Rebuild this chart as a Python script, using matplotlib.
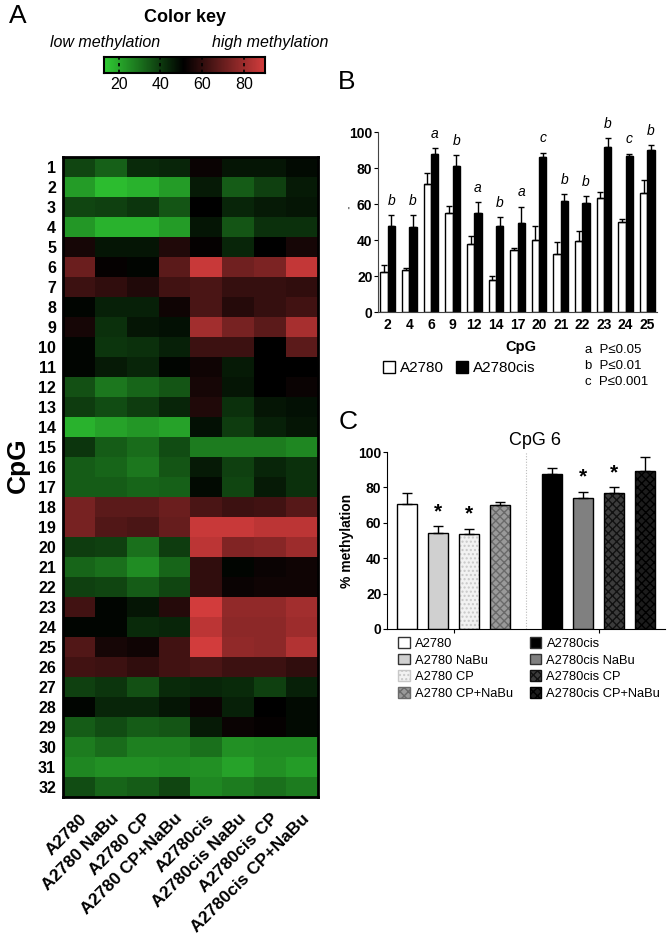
import numpy as np
import matplotlib
matplotlib.use('Agg')
import matplotlib.pyplot as plt
from matplotlib.colors import LinearSegmentedColormap, TwoSlopeNorm
from matplotlib.patches import Patch

plt.rcParams['font.family'] = ['Liberation Sans', 'DejaVu Sans']

# ---------------- data ----------------
conditions = ['A2780', 'A2780 NaBu', 'A2780 CP', 'A2780 CP+NaBu',
              'A2780cis', 'A2780cis NaBu', 'A2780cis CP', 'A2780cis CP+NaBu']
cpg_rows = [str(i) for i in range(1, 33)]

# % methylation per CpG (1..32) for each condition (heatmap columns)
a2780 = [38, 22, 38, 23, 55, 71, 62, 50, 55, 50, 50, 36, 40, 18, 41, 34,
         34, 73, 73, 40, 32, 39, 63, 50, 66, 63, 39, 50, 34, 28, 26, 37]
a2780_nabu = [33, 16, 39, 18, 47, 52, 60, 45, 42, 41, 46, 29, 37, 21, 34, 32,
              34, 68, 66, 39, 30, 38, 50, 50, 55, 62, 41, 44, 37, 31, 24, 32]
a2780_cp = [43, 18, 41, 18, 47, 50, 57, 45, 47, 42, 44, 32, 40, 23, 31, 29,
            32, 68, 65, 30, 25, 34, 47, 43, 54, 60, 36, 44, 34, 27, 24, 34]
a2780_cpnabu = [44, 22, 35, 22, 57, 68, 63, 54, 48, 45, 50, 35, 44, 21, 37, 35,
                33, 71, 70, 40, 32, 38, 58, 44, 63, 63, 43, 47, 35, 27, 25, 38]
cis = [53, 46, 51, 47, 52, 88, 65, 65, 81, 62, 54, 55, 57, 48, 28, 46,
       49, 65, 88, 86, 60, 60, 91, 86, 90, 65, 44, 53, 46, 30, 24, 26]
cis_nabu = [47, 34, 44, 35, 44, 72, 61, 58, 73, 62, 46, 47, 42, 40, 28, 39,
            38, 62, 88, 75, 50, 53, 78, 77, 78, 62, 43, 45, 53, 24, 21, 28]
cis_cp = [47, 39, 46, 42, 51, 74, 61, 61, 68, 51, 51, 51, 47, 45, 28, 44,
          46, 63, 86, 76, 53, 54, 78, 77, 77, 62, 39, 51, 52, 25, 24, 30]
cis_cpnabu = [49, 46, 47, 42, 55, 87, 60, 63, 82, 68, 51, 53, 48, 47, 26, 42,
              42, 67, 86, 80, 54, 54, 81, 80, 84, 60, 45, 49, 49, 25, 22, 28]

# panel B
b_cpg = ['2', '4', '6', '9', '12', '14', '17', '20', '21', '22', '23', '24', '25']
b_a2780 = [22, 23.5, 71, 55, 38, 18, 34.5, 40, 32, 39.5, 63.5, 50, 66]
b_a2780_err = [4, 1, 6, 4, 4, 2, 1, 7.5, 7, 5.5, 3, 1.5, 7.5]
b_cis = [48, 47, 88, 81, 55, 48, 49.5, 86, 61.5, 60.5, 91.5, 86.5, 90]
b_cis_err = [6, 7, 3, 6, 6, 4.5, 9, 2.5, 4, 4, 5, 1.5, 2.5]
b_sig = ['b', 'b', 'a', 'b', 'a', 'b', 'a', 'c', 'b', 'b', 'b', 'c', 'b']

# panel C (CpG 6)
c_labels = conditions
c_vals = [70.5, 54, 53.5, 70, 87.5, 74, 77, 89]
c_err = [6.5, 4, 3, 2, 3.5, 3.5, 3, 8]
c_star = [False, True, True, False, False, True, True, False]

# ---------------- figure ----------------
W, H = 672, 938
fig = plt.figure(figsize=(W / 100, H / 100), dpi=100)


def box(x0, y0, x1, y1):
    return [x0 / W, 1 - y1 / H, (x1 - x0) / W, (y1 - y0) / H]


# ---- panel A heatmap ----
cmap = LinearSegmentedColormap.from_list('gkr', ['#30cc34', '#000000', '#d23c3c'])
norm = TwoSlopeNorm(vmin=13, vcenter=51, vmax=90)
mat = np.array([a2780, a2780_nabu, a2780_cp, a2780_cpnabu,
                cis, cis_nabu, cis_cp, cis_cpnabu]).T

axh = fig.add_axes(box(63, 157, 318, 797))
axh.imshow(mat, cmap=cmap, norm=norm, aspect='auto', interpolation='nearest')
axh.set_yticks(range(len(cpg_rows)))
axh.set_yticklabels(cpg_rows, fontsize=11.5, fontweight='bold')
axh.set_xticks(range(len(conditions)))
axh.set_xticklabels(conditions, rotation=45, ha='right', rotation_mode='anchor',
                    fontsize=12.5, fontweight='bold')
axh.tick_params(axis='y', length=0, pad=5)
axh.tick_params(axis='x', length=0, pad=10)
for s in axh.spines.values():
    s.set_linewidth(2)
fig.text(18 / W, 1 - 465 / H, 'CpG', rotation=90, fontsize=19, fontweight='bold',
         ha='center', va='center')
fig.text(18 / W, 1 - 16 / H, 'A', fontsize=19, ha='center', va='center')

# colour key
axc = fig.add_axes(box(104, 57, 265, 73))
grad = np.linspace(13, 90, 300).reshape(1, -1)
axc.imshow(grad, cmap=cmap, norm=norm, aspect='auto', extent=[13, 90, 0, 1])
axc.set_yticks([])
axc.set_xticks([20, 40, 60, 80])
axc.tick_params(axis='x', length=0, labelsize=11.5, pad=3)
for t in [20, 40, 60, 80]:
    axc.axvline(t, color='black', lw=1.2, ls=(0, (2, 2)))
for s in axc.spines.values():
    s.set_linewidth(1.5)
fig.text(185 / W, 1 - 18 / H, 'Color key', fontsize=13, fontweight='bold',
         ha='center', va='center')
fig.text(105 / W, 1 - 43 / H, 'low methylation', fontsize=11.5, style='italic',
         ha='center', va='center')
fig.text(270 / W, 1 - 43 / H, 'high methylation', fontsize=11.5, style='italic',
         ha='center', va='center')

# ---- panel B ----
axb = fig.add_axes(box(378, 132, 657, 312))
x = np.arange(len(b_cpg))
bw = 0.34
axb.bar(x - bw / 2, b_a2780, bw, color='white', edgecolor='black', lw=1)
axb.bar(x + bw / 2, b_cis, bw, color='black', edgecolor='black', lw=1)
axb.errorbar(x - bw / 2, b_a2780, yerr=[np.zeros(len(x)), b_a2780_err], fmt='none',
             ecolor='black', elinewidth=1, capsize=2)
axb.errorbar(x + bw / 2, b_cis, yerr=[np.zeros(len(x)), b_cis_err], fmt='none',
             ecolor='black', elinewidth=1, capsize=2)
for i in range(len(x)):
    axb.text(x[i] + bw / 2, b_cis[i] + b_cis_err[i] + 4, b_sig[i], style='italic',
             fontsize=10, ha='center', va='bottom')
axb.set_xlim(-0.45, len(x) - 0.55)
axb.set_ylim(0, 100)
axb.set_yticks([0, 20, 40, 60, 80, 100])
axb.set_xticks(x)
axb.set_xticklabels(b_cpg, fontsize=10, fontweight='bold')
for lab in axb.get_yticklabels():
    lab.set_fontweight('bold')
axb.tick_params(axis='y', labelsize=10, length=3, pad=1)
axb.tick_params(axis='x', length=0, pad=4)
axb.spines['top'].set_visible(False)
axb.spines['right'].set_visible(False)
axb.spines['left'].set_color('#444444')
axb.spines['bottom'].set_color('#444444')
fig.text(521 / W, 1 - 347 / H, 'CpG', fontsize=10.5, fontweight='bold',
         ha='center', va='center')
fig.text(348 / W, 1 - 212 / H, "'", fontsize=7, ha='center', va='center')
fig.text(347 / W, 1 - 82 / H, 'B', fontsize=19, ha='center', va='center')
axb.legend(handles=[Patch(facecolor='white', edgecolor='black', label='A2780'),
                    Patch(facecolor='black', edgecolor='black', label='A2780cis')],
           loc='center left', bbox_to_anchor=(383 / W, 1 - 368 / H),
           bbox_transform=fig.transFigure, ncol=2, frameon=False, fontsize=11,
           handlelength=0.8, handleheight=0.8, handletextpad=0.3, columnspacing=0.8,
           borderaxespad=0, borderpad=0)
for k, txt in enumerate(['a  P\u22640.05', 'b  P\u22640.01', 'c  P\u22640.001']):
    fig.text(585 / W, 1 - (350 + 16 * k) / H, txt, fontsize=9.5, ha='left', va='center')

# ---- panel C ----
axp = fig.add_axes(box(387, 452, 665, 629))
pos = np.concatenate([np.arange(4), np.arange(4) + 4.68])
face = ['white', '#d0d0d0', '#f2f2f2', '#9a9a9a', 'black', '#808080', '#3c3c3c', '#1c1c1c']
hatches = [None, None, '....', 'xxxx', None, None, 'xxxx', 'xxxx']
hcol = ['black', 'black', '#c8c8c8', '#6a6a6a', 'black', 'black', '#111111', '#000000']
cw = 0.65
for i in range(len(c_vals)):
    if hatches[i]:
        axp.bar(pos[i], c_vals[i], cw, color=face[i], edgecolor=hcol[i], hatch=hatches[i], lw=0)
        axp.bar(pos[i], c_vals[i], cw, fill=False, edgecolor='black', lw=1)
    else:
        axp.bar(pos[i], c_vals[i], cw, color=face[i], edgecolor='black', lw=1)
axp.errorbar(pos, c_vals, yerr=[np.zeros(len(pos)), c_err], fmt='none', ecolor='black',
             elinewidth=1, capsize=3.5)
for i in range(len(pos)):
    if c_star[i]:
        axp.text(pos[i], c_vals[i] + c_err[i] + 3, '*', fontsize=15, fontweight='bold',
                 ha='center', va='bottom')
axp.axvline((pos[3] + pos[4]) / 2, color='#bbbbbb', lw=0.8, ls=(0, (1, 1.5)))
axp.set_xlim(-0.645, 8.32)
axp.set_ylim(0, 100)
axp.set_yticks([0, 20, 40, 60, 80, 100])
for lab in axp.get_yticklabels():
    lab.set_fontweight('bold')
axp.set_xticks([pos[:4].mean(), pos[4:].mean()])
axp.set_xticklabels([])
axp.tick_params(axis='y', labelsize=10, length=3, pad=1)
axp.tick_params(axis='x', length=3)
axp.spines['top'].set_visible(False)
axp.spines['right'].set_visible(False)
axp.set_ylabel('% methylation', fontsize=10, fontweight='bold', labelpad=3)
fig.text(535 / W, 1 - 440 / H, 'CpG 6', fontsize=13, ha='center', va='center')
fig.text(348 / W, 1 - 422 / H, 'C', fontsize=19, ha='center', va='center')

handles = []
for i in range(len(c_labels)):
    if hatches[i]:
        handles.append(Patch(facecolor=face[i], edgecolor=hcol[i], hatch=hatches[i],
                             label=c_labels[i]))
    else:
        handles.append(Patch(facecolor=face[i], edgecolor='#333333', label=c_labels[i]))
axp.legend(handles=handles, loc='upper left', bbox_to_anchor=(398 / W, 1 - 637 / H),
           bbox_transform=fig.transFigure, ncol=2, frameon=False, fontsize=9.3,
           handlelength=0.9, handleheight=0.9, handletextpad=0.4, columnspacing=1.3,
           labelspacing=0.3, borderaxespad=0, borderpad=0)

fig.savefig('out.png', dpi=100)
